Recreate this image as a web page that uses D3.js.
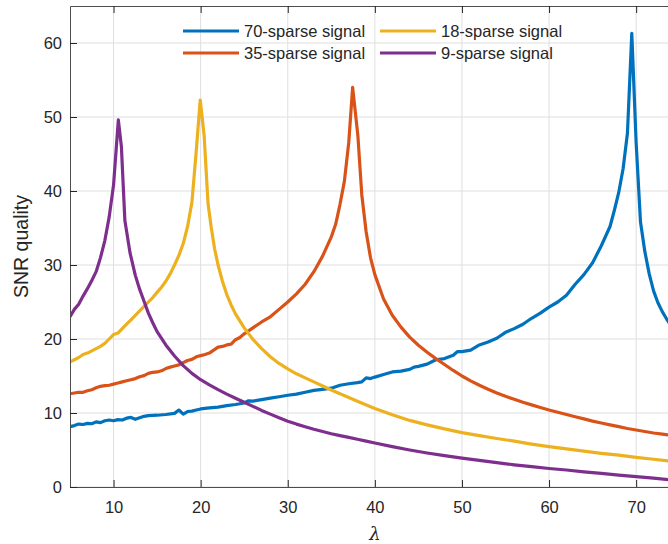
<!DOCTYPE html>
<html>
<head>
<meta charset="utf-8">
<script src="https://cdn.jsdelivr.net/npm/d3@7"></script>
<style>
  html, body { margin: 0; padding: 0; background: #fff; }
  svg { display: block; }
  text { font-family: "Liberation Sans", Arial, Helvetica, sans-serif; fill: #262626; }
</style>
</head>
<body>
<div id="chart"></div>
<script>
// Regularisation parameter (lambda) sample points and SNR of each reconstruction
const lambda70 = [5,5.5,6,6.5,7,7.5,8,8.5,9,9.5,10,10.5,11,11.5,12,12.5,13,13.5,14,15,16,17,17.5,18,18.5,19,19.5,20,21,22,23,24,25,25.5,26,27,28,29,30,31,32,33,34,35,36,37,38,38.5,39,39.5,40,41,42,43,44,44.5,45,46,47,48,49,49.5,50,51,52,53,54,55,56,57,58,59,60,61,62,63,64,65,66,67,67.5,68,68.5,69,69.5,70,70.5,71,71.5,72,72.5,73,73.5,74,74.5,75];
const snr70 = [8.15,8.3,8.5,8.45,8.6,8.55,8.8,8.7,8.95,9.05,8.95,9.1,9.05,9.3,9.4,9.15,9.35,9.55,9.65,9.7,9.8,9.95,10.4,9.85,10.2,10.25,10.4,10.55,10.7,10.8,11.0,11.15,11.35,11.65,11.6,11.8,12.0,12.2,12.4,12.55,12.8,13.05,13.2,13.35,13.75,13.95,14.1,14.2,14.75,14.65,14.85,15.2,15.55,15.65,15.9,16.2,16.3,16.6,17.2,17.35,17.8,18.3,18.3,18.5,19.2,19.6,20.1,20.9,21.4,22.0,22.8,23.5,24.3,25.0,25.9,27.4,28.7,30.3,32.6,35.2,37.4,39.8,43.0,47.8,61.3,46.5,35.8,31.8,28.8,26.5,24.9,23.7,22.7,21.8,21.0,20.3];

const lambda35 = [5,5.5,6,6.5,7,7.5,8,8.5,9,9.5,10,10.5,11,11.5,12,12.5,13,13.5,14,14.5,15,15.5,16,16.5,17,17.5,18,18.5,19,19.5,20,20.5,21,21.5,22,22.5,23,23.5,24,24.5,25,26,27,28,29,30,31,32,33,34,35,35.5,36,36.5,37,37.45,38.05,38.5,39,39.5,40,41,42,43,44,45,46,47,48,49,50,51,52,53,54,55,56,57,58,59,60,61,62,63,64,65,66,67,68,69,70,71,72,73,74,75];
const snr35 = [12.6,12.7,12.8,12.8,13.0,13.15,13.4,13.6,13.7,13.75,13.9,14.05,14.2,14.35,14.5,14.65,14.9,15.05,15.35,15.5,15.55,15.7,16.0,16.2,16.35,16.5,16.8,17.1,17.25,17.6,17.75,17.9,18.1,18.5,18.9,19.0,19.2,19.3,19.9,20.2,20.7,21.5,22.3,23.0,24.0,25.0,26.1,27.4,29.1,31.2,33.8,35.5,38.2,41.3,46.5,54.0,47.5,39.5,34.5,31.0,28.7,25.4,23.2,21.6,20.25,19.15,18.2,17.35,16.55,15.75,15.0,14.35,13.75,13.2,12.7,12.25,11.85,11.45,11.1,10.75,10.4,10.1,9.8,9.5,9.2,8.9,8.65,8.4,8.15,7.9,7.7,7.5,7.3,7.15,7.0,6.85];

const lambda18 = [5,5.5,6,6.5,7,7.5,8,8.5,9,9.5,10,10.5,11,11.5,12,12.5,13,13.5,14,14.5,15,15.5,16,16.5,17,17.5,18,18.5,19,19.5,19.95,20.4,20.85,21.2,21.6,22,22.5,23,23.5,24,25,26,27,28,29,30,31,32,33,34,35,36,37,38,40,42,44,46,48,50,52,54,56,58,60,62,64,66,68,70,72,74,75];
const snr18 = [16.9,17.2,17.5,17.9,18.1,18.4,18.7,19.0,19.4,20.0,20.6,20.8,21.4,22.0,22.6,23.2,23.8,24.4,25.0,25.6,26.3,27.0,27.8,28.8,30.0,31.3,32.9,35.2,38.5,45.5,52.3,47.5,38.3,35.2,32.2,30.0,27.8,26.0,24.6,23.4,21.5,19.95,18.7,17.6,16.7,15.95,15.3,14.75,14.2,13.65,13.1,12.6,12.1,11.6,10.6,9.75,9.0,8.4,7.85,7.35,6.95,6.55,6.2,5.8,5.45,5.15,4.85,4.55,4.3,4.0,3.75,3.5,3.4];

const lambda9 = [5,5.5,6,6.5,7,7.5,8,8.5,9,9.5,10,10.55,10.9,11.3,11.9,12.5,13,13.5,14,14.5,15,16,17,18,19,20,21,22,23,24,25,26,27,28,29,30,31,32,33,34,35,36,37,38,39,40,42,44,46,48,50,52,54,56,58,60,62,64,66,68,70,72,74,75];
const snr9 = [23.0,24.0,24.7,25.8,26.8,27.9,29.1,31.0,33.3,36.5,40.8,49.6,46.0,36.0,31.6,28.6,26.7,25.1,23.5,22.2,21.0,19.2,17.7,16.4,15.35,14.5,13.8,13.15,12.55,12.0,11.45,10.9,10.35,9.85,9.35,8.9,8.5,8.15,7.8,7.5,7.2,6.95,6.7,6.45,6.2,5.95,5.45,5.0,4.6,4.25,3.9,3.6,3.3,3.0,2.75,2.5,2.3,2.05,1.85,1.6,1.4,1.2,0.95,0.85];

const seriesNames = ["70-sparse signal", "35-sparse signal", "18-sparse signal", "9-sparse signal"];
const seriesColors = ["#0072BD", "#D95319", "#EDB120", "#7E2F8E"];

const xTicks = [10, 20, 30, 40, 50, 60, 70];
const yTicks = [0, 10, 20, 30, 40, 50, 60];

const W = 668, H = 544;
const mLeft = 70, mTop = 6, mBottom = 487, mRight = 679.7;

const svg = d3.select("#chart").append("svg")
  .attr("width", W).attr("height", H);

const x = d3.scaleLinear().domain([5, 75]).range([mLeft, mRight]);
const y = d3.scaleLinear().domain([0, 65]).range([mBottom, mTop]);

svg.append("defs").append("clipPath").attr("id", "plotClip")
  .append("rect").attr("x", mLeft).attr("y", mTop)
  .attr("width", mRight - mLeft).attr("height", mBottom - mTop);

// grid
const grid = svg.append("g");
grid.selectAll("line.gx").data(xTicks).join("line")
  .attr("x1", d => x(d)).attr("x2", d => x(d))
  .attr("y1", mTop).attr("y2", mBottom)
  .attr("stroke", "#dfdfdf").attr("stroke-width", 1);
grid.selectAll("line.gy").data(yTicks).join("line")
  .attr("x1", mLeft).attr("x2", mRight)
  .attr("y1", d => y(d)).attr("y2", d => y(d))
  .attr("stroke", "#dfdfdf").attr("stroke-width", 1);

// curves
const series = [
  { lam: lambda70, snr: snr70 },
  { lam: lambda35, snr: snr35 },
  { lam: lambda18, snr: snr18 },
  { lam: lambda9, snr: snr9 }
];
const line = d3.line().x(d => x(d[0])).y(d => y(d[1]));
const plot = svg.append("g").attr("clip-path", "url(#plotClip)");
series.forEach((s, i) => {
  plot.append("path")
    .datum(s.lam.map((l, k) => [l, s.snr[k]]))
    .attr("fill", "none")
    .attr("stroke", seriesColors[i])
    .attr("stroke-width", 3.2)
    .attr("stroke-linejoin", "round")
    .attr("d", line);
});

// axes (inward ticks, box on)
const tickLen = 7;
const axisColor = "#4d4d4d";
const xAxis = d3.axisBottom(x).tickValues(xTicks).tickSizeInner(-tickLen).tickSizeOuter(0).tickPadding(14);
const yAxis = d3.axisLeft(y).tickValues(yTicks).tickSizeInner(-tickLen).tickSizeOuter(0).tickPadding(8);
const xTop = d3.axisTop(x).tickValues(xTicks).tickSizeInner(-tickLen).tickSizeOuter(0).tickFormat("");

function styleAxis(g) {
  g.select(".domain").attr("stroke", axisColor).attr("stroke-width", 1);
  g.selectAll(".tick line").attr("stroke", "#262626").attr("stroke-width", 1);
  g.selectAll(".tick text").attr("fill", "#262626")
    .style("font-family", '"Liberation Sans", Arial, sans-serif')
    .style("font-size", "16.5px");
}

svg.append("g").attr("transform", `translate(0,${mBottom})`).call(xAxis).call(styleAxis);
svg.append("g").attr("transform", `translate(${mLeft},0)`).call(yAxis).call(styleAxis);
svg.append("g").attr("transform", `translate(0,${mTop})`).call(xTop).call(styleAxis);

// axis labels
svg.append("text")
  .attr("x", (mLeft + mRight) / 2).attr("y", 540)
  .attr("text-anchor", "middle")
  .style("font-family", '"DejaVu Serif", "Liberation Serif", serif')
  .style("font-style", "italic")
  .style("font-size", "18px")
  .text("λ");

svg.append("text")
  .attr("transform", `translate(28,${(mTop + mBottom) / 2}) rotate(-90)`)
  .attr("text-anchor", "middle")
  .style("font-size", "19.5px")
  .text("SNR quality");

// legend, two columns, no box
const legendPos = [
  { lx: 183, ly: 31 }, { lx: 183, ly: 53 },
  { lx: 380, ly: 31 }, { lx: 380, ly: 53 }
];
const legend = svg.append("g");
seriesNames.forEach((name, i) => {
  const p = legendPos[i];
  legend.append("line")
    .attr("x1", p.lx).attr("x2", p.lx + 56)
    .attr("y1", p.ly).attr("y2", p.ly)
    .attr("stroke", seriesColors[i]).attr("stroke-width", 3.2);
  legend.append("text")
    .attr("x", p.lx + 61).attr("y", p.ly + 6)
    .style("font-size", "16.5px")
    .text(name);
});
</script>
</body>
</html>
